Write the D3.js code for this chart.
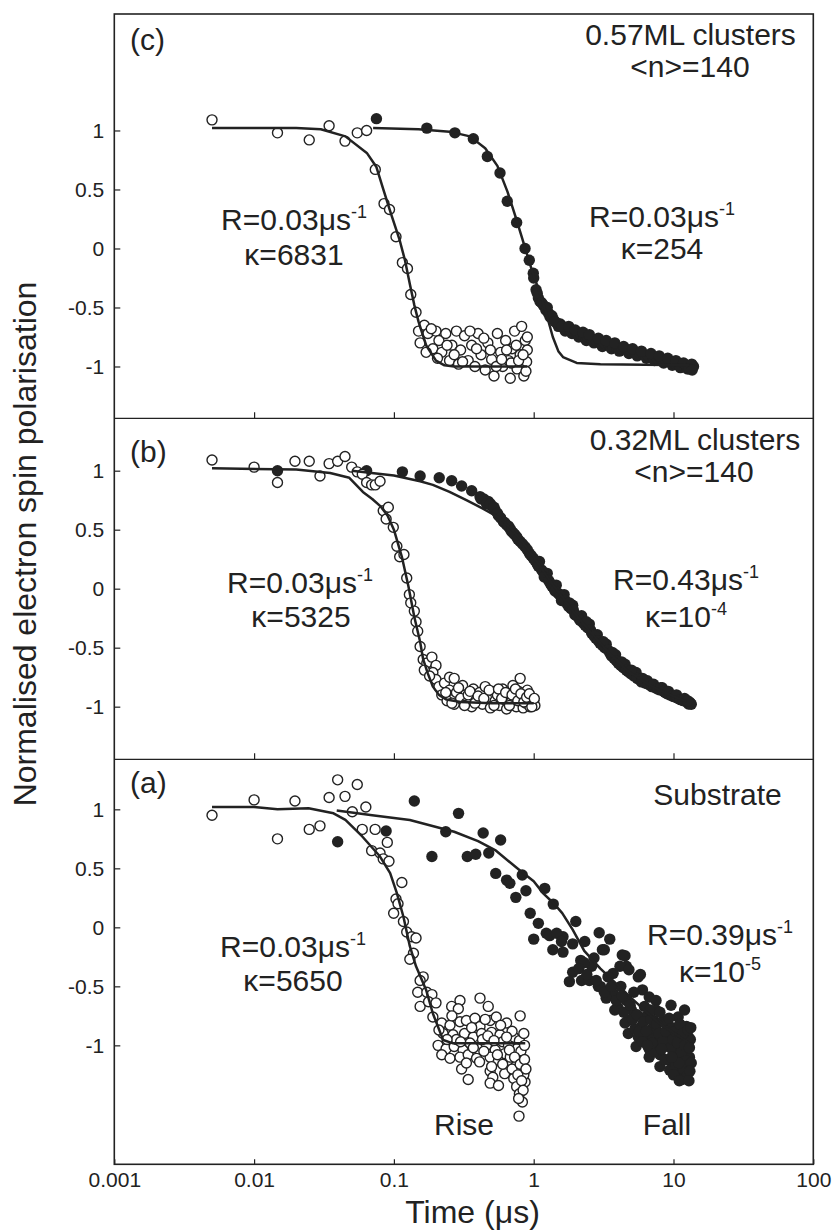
<!DOCTYPE html>
<html>
<head>
<meta charset="utf-8">
<script src="https://cdn.jsdelivr.net/npm/d3@7"></script>
<style>
  body { margin: 0; background: #fff; }
  svg { display: block; font-family: 'Liberation Sans', Arial, Helvetica, sans-serif; }
</style>
</head>
<body>
<svg id="chart" width="834" height="1230"></svg>
<script>
// axis ticks
const X_TICKS = [0.001, 0.01, 0.1, 1, 10, 100];
const X_TICK_LABELS = ['0.001', '0.01', '0.1', '1', '10', '100'];
const X_INNER_TICKS = [0.01, 0.1, 1, 10];
const Y_TICKS = [-1, -0.5, 0, 0.5, 1];
const Y_TICK_LABELS = ['-1', '-0.5', '0', '0.5', '1'];

// (c) 0.57ML clusters  -- [time us, polarisation]
const riseC = [[0.005,1.09],[0.0147,0.98],[0.0248,0.92],[0.0344,1.04],[0.0447,0.91],[0.0547,0.98],[0.0638,1.0],
  [0.0736,0.67],[0.085,0.38],[0.093,0.33],[0.1035,0.1],[0.115,-0.12],[0.125,-0.17],[0.132,-0.39],[0.144,-0.54],
  [0.15,-0.7],[0.154,-0.8],[0.165,-0.65],[0.175,-0.72],[0.19,-0.85],[0.2,-0.7],[0.21,-0.78],[0.22,-0.88],
  [0.235,-0.72],[0.25,-0.95],[0.26,-0.82],[0.28,-0.7],[0.29,-0.98],[0.3,-0.86],[0.32,-0.74],[0.34,-0.95],
  [0.36,-0.82],[0.38,-1.0],[0.4,-0.72],[0.42,-0.9],[0.45,-1.03],[0.47,-0.8],[0.5,-0.94],[0.52,-1.08],
  [0.55,-0.72],[0.58,-0.88],[0.6,-1.0],[0.63,-0.78],[0.66,-0.95],[0.68,-1.1],[0.7,-0.85],[0.73,-0.7],
  [0.76,-1.02],[0.8,-0.9],[0.82,-0.66],[0.85,-1.08],[0.87,-0.78],[0.89,-0.96],[0.9,-0.86],
  [0.17,-0.88],[0.185,-0.68],[0.205,-0.93],[0.24,-0.82],[0.27,-0.9],[0.31,-0.96],[0.35,-0.7],[0.39,-0.85],
  [0.44,-0.76],[0.49,-0.86],[0.54,-1.0],[0.59,-0.94],[0.64,-0.86],[0.69,-0.97],[0.75,-0.82],[0.78,-0.95],
  [0.84,-0.9],[0.88,-1.04],[0.9,-0.75]];
const fallC = [[0.075,1.10],[0.172,1.02],[0.273,0.98],[0.37,0.93],[0.466,0.78],[0.574,0.64],[0.647,0.40],
  [0.755,0.22],[0.867,0.0],[0.93,-0.1],[0.993,-0.21],[1.04,-0.35],[1.08,-0.42],[1.11,-0.45],[1.17,-0.48],
  [1.22,-0.52],[1.28,-0.55],[1.31,-0.58],[1.38,-0.6],[1.46,-0.63],[1.5,-0.66],[1.55,-0.64],[1.63,-0.67],
  [1.68,-0.7],[1.72,-0.68],[1.82,-0.69],[1.88,-0.72],[1.93,-0.71],[2.03,-0.72],[2.1,-0.75],[2.18,-0.73],
  [2.3,-0.75],[2.38,-0.78],[2.45,-0.75],[2.6,-0.77],[2.7,-0.8],[2.8,-0.78],[3.0,-0.8],[3.1,-0.83],[3.2,-0.8],
  [3.45,-0.82],[3.6,-0.85],[3.7,-0.83],[3.95,-0.84],[4.1,-0.87],[4.25,-0.85],[4.6,-0.86],[4.8,-0.89],
  [4.9,-0.86],[5.3,-0.88],[5.5,-0.91],[5.7,-0.88],[6.1,-0.9],[6.4,-0.93],[6.6,-0.91],[7.1,-0.92],[7.3,-0.95],
  [7.6,-0.93],[8.2,-0.94],[8.5,-0.97],[8.8,-0.95],[9.4,-0.96],[9.8,-0.99],[10.1,-0.97],[10.8,-0.98],
  [11.2,-1.01],[11.5,-0.99],[12.3,-0.99],[12.6,-1.02],[13.2,-1.0],[13.9,-1.0],
  [1.0,-0.25],[1.06,-0.38],[1.14,-0.46],[1.25,-0.5],[1.35,-0.57],[1.42,-0.62],[1.6,-0.66],[1.78,-0.66],
  [1.98,-0.69],[2.25,-0.71],[2.5,-0.73],[2.9,-0.76],[3.3,-0.78],[3.8,-0.8],[4.4,-0.83],[5.1,-0.85],
  [5.9,-0.87],[6.9,-0.89],[7.9,-0.91],[9.1,-0.93],[10.4,-0.95],[11.8,-0.97],[13.5,-0.98],[12.9,-1.02],
  [13.6,-1.03]];
const fitRiseC = [[0.005,1.02],[0.01,1.02],[0.02,1.02],[0.03,1.01],[0.045,0.95],[0.064,0.81],[0.075,0.69],
  [0.084,0.5],[0.095,0.3],[0.11,0.07],[0.12,-0.1],[0.13,-0.3],[0.14,-0.48],[0.15,-0.62],[0.17,-0.82],
  [0.2,-0.95],[0.23,-0.99],[0.27,-1.0],[0.9,-1.0]];
const fitFallC = [[0.071,1.02],[0.15,1.01],[0.25,0.99],[0.35,0.95],[0.45,0.85],[0.55,0.7],[0.65,0.48],
  [0.75,0.25],[0.87,0.0],[0.98,-0.2],[1.11,-0.38],[1.23,-0.55],[1.37,-0.75],[1.5,-0.87],[1.62,-0.92],
  [2.03,-0.97],[3,-0.98],[13,-0.99]];

// (b) 0.32ML clusters
const riseB = [[0.005,1.09],[0.01,1.03],[0.0147,0.9],[0.0196,1.08],[0.0248,1.08],[0.0296,0.955],[0.0344,1.06],
  [0.0396,1.08],[0.0447,1.12],[0.0499,1.03],[0.0547,0.99],[0.0594,0.97],[0.0638,0.9],[0.0693,0.88],
  [0.0736,0.88],[0.0796,0.91],[0.0839,0.66],[0.0912,0.69],[0.088,0.59],[0.099,0.52],[0.105,0.36],[0.11,0.27],
  [0.118,0.29],[0.1235,0.09],[0.129,-0.05],[0.132,-0.12],[0.14,-0.19],[0.144,-0.28],[0.148,-0.36],
  [0.154,-0.49],[0.162,-0.6],[0.172,-0.63],[0.187,-0.58],[0.2,-0.65],[0.19,-0.71],[0.2,-0.77],[0.21,-0.83],
  [0.23,-0.8],[0.25,-0.75],[0.27,-0.76],[0.22,-0.9],[0.24,-0.95],[0.25,-0.86],[0.27,-0.98],[0.28,-0.88],
  [0.3,-0.93],[0.31,-0.82],[0.33,-0.97],[0.34,-0.9],[0.36,-1.0],[0.37,-0.85],[0.39,-0.94],[0.41,-0.88],
  [0.43,-0.98],[0.45,-0.83],[0.47,-0.92],[0.49,-1.01],[0.51,-0.87],[0.53,-0.95],[0.55,-0.9],[0.57,-0.99],
  [0.6,-0.85],[0.62,-0.94],[0.64,-1.02],[0.66,-0.88],[0.69,-0.96],[0.71,-0.82],[0.73,-0.91],[0.75,-1.0],
  [0.78,-0.87],[0.8,-0.76],[0.82,-0.94],[0.84,-1.01],[0.86,-0.9],[0.88,-0.97],[0.9,-0.86],[0.92,-0.94],
  [0.94,-1.0],[0.96,-0.92],[0.98,-0.97],[1.0,-0.95],[1.02,-0.99],
  [0.235,-0.88],[0.26,-0.97],[0.29,-0.84],[0.32,-0.99],[0.35,-0.87],[0.38,-0.97],[0.4,-0.91],[0.44,-0.93],
  [0.48,-0.86],[0.52,-0.99],[0.56,-0.85],[0.59,-0.93],[0.63,-0.88],[0.67,-0.99],[0.7,-0.9],[0.74,-0.85],
  [0.77,-0.95],[0.81,-0.89],[0.85,-0.96],[0.89,-0.92],[0.93,-0.89],[0.97,-1.0],[1.01,-0.93],[0.165,-0.69],
  [0.18,-0.74]];
const fallB = [[0.0147,1.0],[0.0638,1.0],[0.115,0.99],[0.154,0.955],[0.211,0.94],[0.259,0.915],[0.305,0.87],
  [0.36,0.83],[0.413,0.78],[0.44,0.76],[0.473,0.74],[0.5,0.7],[0.529,0.667],[0.56,0.62],[0.607,0.568],
  [0.64,0.54],[0.677,0.51],[0.71,0.475],[0.755,0.44],[0.8,0.4],[0.867,0.356],[0.93,0.3],[0.993,0.258],
  [1.06,0.21],[1.1,0.23],[1.14,0.158],[1.22,0.1],[1.25,0.13],[1.31,0.046],[1.4,0.0],[1.45,0.03],[1.5,-0.04],
  [1.6,-0.08],[1.65,-0.05],[1.72,-0.124],[1.85,-0.17],[1.9,-0.14],[1.97,-0.22],[2.1,-0.25],[2.2,-0.23],
  [2.26,-0.29],[2.43,-0.33],[2.5,-0.3],[2.6,-0.378],[2.78,-0.42],[2.85,-0.39],[2.98,-0.463],[3.22,-0.5],
  [3.3,-0.47],[3.51,-0.548],[3.75,-0.59],[3.85,-0.56],[4.03,-0.632],[4.38,-0.67],[4.5,-0.64],[4.75,-0.703],
  [5.2,-0.74],[5.4,-0.71],[5.75,-0.774],[6.25,-0.8],[6.5,-0.78],[6.79,-0.816],[7.4,-0.84],[8.0,-0.858],
  [8.3,-0.84],[8.7,-0.88],[9.44,-0.9],[10.1,-0.915],[10.8,-0.93],[11.6,-0.945],[12.4,-0.957],[12.8,-0.977],
  [13.2,-0.97],
  [0.42,0.76],[0.46,0.72],[0.49,0.72],[0.52,0.69],[0.55,0.64],[0.58,0.6],[0.62,0.56],[0.66,0.53],[0.69,0.49],
  [0.73,0.46],[0.77,0.42],[0.83,0.38],[0.9,0.33],[0.96,0.28],[1.02,0.24],[1.08,0.19],[1.17,0.14],[1.19,0.1],
  [1.28,0.07],[1.35,0.02],[1.42,-0.02],[1.55,-0.06],[1.58,-0.1],[1.68,-0.1],[1.78,-0.15],[1.8,-0.12],
  [1.92,-0.18],[2.03,-0.23],[2.15,-0.27],[2.33,-0.31],[2.38,-0.28],[2.55,-0.35],[2.7,-0.4],[2.9,-0.44],
  [3.1,-0.48],[3.15,-0.45],[3.4,-0.52],[3.6,-0.57],[3.65,-0.54],[3.9,-0.61],[4.2,-0.65],[4.25,-0.62],
  [4.6,-0.69],[4.95,-0.72],[5.0,-0.69],[5.5,-0.76],[5.9,-0.79],[6.0,-0.76],[6.6,-0.81],[7.0,-0.83],
  [7.2,-0.81],[7.7,-0.85],[8.1,-0.84],[8.5,-0.87],[9.0,-0.89],[9.2,-0.87],[9.8,-0.91],[10.4,-0.92],
  [10.5,-0.9],[11.2,-0.94],[11.8,-0.95],[12.0,-0.93],[13.0,-0.96],[13.4,-0.98],[12.6,-0.95]];
const fitRiseB = [[0.005,1.02],[0.02,1.01],[0.035,0.98],[0.048,0.94],[0.06,0.82],[0.07,0.76],[0.08,0.7],
  [0.09,0.62],[0.1,0.5],[0.114,0.27],[0.127,0.02],[0.14,-0.24],[0.154,-0.45],[0.162,-0.6],[0.175,-0.72],
  [0.19,-0.83],[0.21,-0.9],[0.238,-0.94],[0.3,-0.96],[0.5,-0.97],[1.0,-0.97]];
const fitFallB = [[0.05,1.0],[0.1,0.96],[0.154,0.91],[0.19,0.88],[0.25,0.82],[0.33,0.75],[0.43,0.68],
  [0.57,0.6],[0.7,0.5],[0.85,0.38],[1.0,0.27],[1.3,0.07],[1.6,-0.07],[2,-0.22],[2.6,-0.38],[3.5,-0.55],
  [4.75,-0.7],[6.8,-0.82],[9.4,-0.9],[12.4,-0.955]];

// (a) substrate
const riseA = [[0.005,0.95],[0.01,1.08],[0.0147,0.75],[0.0196,1.07],[0.0248,0.83],[0.0296,0.86],[0.0344,1.10],
  [0.0396,1.25],[0.0447,1.11],[0.0504,0.98],[0.0547,1.21],[0.0594,0.83],[0.063,1.02],[0.0734,0.83],
  [0.0693,0.65],[0.0796,0.63],[0.0839,0.58],[0.0897,0.72],[0.0922,0.56],[0.114,0.38],[0.1035,0.24],
  [0.107,0.2],[0.0996,0.12],[0.117,0.05],[0.1235,-0.04],[0.134,-0.08],[0.144,-0.09],[0.138,-0.22],
  [0.13,-0.27],[0.162,-0.42],[0.154,-0.45],[0.148,-0.55],[0.172,-0.55],[0.187,-0.57],[0.154,-0.67],
  [0.177,-0.63],[0.2,-0.64],[0.259,-0.67],[0.297,-0.62],[0.289,-0.69],[0.413,-0.6],[0.473,-0.67],[0.19,-0.76],
  [0.22,-0.81],[0.252,-0.83],[0.297,-0.8],[0.33,-0.79],[0.38,-0.77],[0.413,-0.84],[0.488,-0.79],[0.54,-0.76],
  [0.64,-0.81],[0.8,-0.75],[0.225,-0.9],[0.265,-0.91],[0.32,-0.9],[0.37,-0.93],[0.424,-0.9],[0.5,-0.89],
  [0.574,-0.91],[0.72,-0.93],[0.79,-0.96],[0.207,-1.0],[0.236,-1.03],[0.27,-1.01],[0.312,-1.04],[0.35,-0.98],
  [0.4,-1.03],[0.46,-1.0],[0.53,-1.04],[0.62,-1.07],[0.755,-1.03],[0.81,-1.05],[0.22,-1.08],[0.252,-1.11],
  [0.297,-1.1],[0.34,-1.08],[0.39,-1.11],[0.488,-1.1],[0.56,-1.13],[0.675,-1.14],[0.81,-1.13],[0.305,-1.2],
  [0.488,-1.22],[0.51,-1.27],[0.62,-1.24],[0.867,-1.21],[0.72,-1.28],[0.34,-1.29],[0.488,-1.32],[0.56,-1.34],
  [0.755,-1.35],[0.867,-1.31],[0.79,-1.41],[0.83,-1.48],[0.785,-1.6],[0.43,-0.95],[0.6,-0.97],[0.66,-1.0],
  [0.7,-0.88],[0.85,-0.9],[0.86,-1.0],[0.58,-0.83],[0.45,-0.78],[0.68,-1.1],[0.36,-0.85],[0.28,-0.95],
  [0.5,-1.18],[0.74,-1.18],[0.85,-1.25],
  [0.21,-0.87],[0.24,-0.95],[0.26,-0.75],[0.3,-0.97],[0.33,-1.15],[0.37,-1.02],[0.41,-1.14],[0.44,-1.05],
  [0.47,-0.92],[0.52,-0.96],[0.55,-1.08],[0.6,-1.16],[0.64,-0.93],[0.67,-1.04],[0.7,-1.2],[0.73,-1.1],
  [0.77,-1.25],[0.8,-1.16],[0.82,-1.3],[0.84,-1.38],[0.86,-1.12],[0.88,-1.2],[0.78,-1.45]];
const fallA = [[0.0396,0.725],[0.088,0.816],[0.14,1.07],[0.187,0.6],[0.235,0.81],[0.29,0.966],[0.335,0.6],
  [0.385,0.62],[0.435,0.8],[0.477,0.63],[0.58,0.74],[0.535,0.457],[0.64,0.4],[0.675,0.373],[0.828,0.443],
  [0.745,0.254],[0.88,0.31],[0.944,0.119],[1.2,0.33],[1.08,0.034],[1.0,-0.1],[1.38,0.197],[1.23,-0.05],
  [1.3,-0.07],[2.0,0.05],[1.62,-0.08],[2.94,-0.046],[3.5,-0.1],[1.37,-0.19],[1.62,-0.21],[4.3,-0.235],
  [1.46,-0.05],[1.9,-0.14],[2.32,-0.12],[2.17,-0.28],[2.7,-0.26],[3.2,-0.19],[4.5,-0.24],[1.9,-0.38],
  [1.8,-0.46],[2.2,-0.45],[2.9,-0.5],[3.7,-0.39],[4.6,-0.33],[5.6,-0.42],[5.4,-1.01],[1.58,-0.12],[3.1,-0.19],
  [4.14,-0.33],[4.8,-0.36],[5.8,-0.4],[2.5,-0.45],[3.0,-0.5],[3.7,-0.56],[4.6,-0.62],[6.0,-0.53],[6.7,-0.59],
  [7.5,-0.62],[9.6,-0.66],[3.8,-0.7],[4.75,-0.79],[5.9,-0.84],[7.2,-0.79],[8.9,-0.79],[10.8,-0.76],
  [12.4,-0.84],[4.75,-0.9],[5.6,-0.93],[6.6,-0.93],[8.0,-0.9],[10.0,-0.93],[12.8,-0.93],[6.7,-1.03],
  [8.5,-1.01],[10.2,-1.01],[12.8,-1.01],[6.7,-1.1],[8.0,-1.08],[9.4,-1.13],[11.2,-1.1],[12.8,-1.15],
  [8.0,-1.18],[9.4,-1.21],[11.2,-1.22],[11.5,-1.29],[9.2,-0.84],[7.5,-0.7],[6.2,-0.67],[4.5,-0.81],
  [3.3,-0.6],[4.0,-0.68],[5.0,-0.7],[5.3,-0.86],[6.3,-0.76],[7.0,-0.86],[7.8,-0.97],[8.3,-0.8],[9.0,-0.95],
  [9.8,-0.85],[10.5,-1.05],[11.0,-0.9],[11.8,-0.98],[12.2,-1.06],[13.2,-0.95],[13.0,-1.1],[12.0,-0.7],
  [6.0,-0.97],[7.3,-1.05],[8.7,-1.12],[10.4,-1.17],[11.8,-1.2],[12.5,-1.26],[2.6,-0.33],[3.4,-0.42],
  [2.3,-0.3],[5.2,-0.55],[4.2,-0.5],
  [2.1,-0.35],[2.4,-0.4],[2.8,-0.45],[3.2,-0.55],[3.6,-0.5],[3.9,-0.62],[4.3,-0.58],[4.4,-0.72],[4.9,-0.66],
  [5.1,-0.78],[5.5,-0.74],[5.7,-0.88],[6.1,-0.8],[6.4,-0.88],[6.9,-0.78],[7.1,-0.95],[7.6,-0.82],[7.9,-0.9],
  [8.4,-0.97],[8.8,-0.88],[9.3,-0.77],[9.5,-1.02],[9.9,-0.95],[10.3,-0.88],[10.7,-0.98],[11.1,-0.82],
  [11.4,-1.06],[11.7,-0.9],[12.1,-1.0],[12.3,-1.13],[12.7,-0.87],[13.0,-1.02],[13.3,-0.85],[13.4,-1.15],
  [13.1,-1.22],[10.9,-1.15],[9.7,-1.1],[8.2,-1.03],[7.0,-0.98],[6.5,-1.0],[10.0,-1.25],[11.0,-1.3],
  [12.9,-1.3],[6.8,-0.7],[8.0,-0.72]];
const fitRiseA = [[0.005,1.02],[0.01,1.02],[0.0147,1.0],[0.0245,1.01],[0.037,0.966],[0.045,0.91],
  [0.0594,0.77],[0.0796,0.6],[0.094,0.46],[0.105,0.29],[0.117,0.09],[0.13,-0.16],[0.144,-0.33],[0.17,-0.53],
  [0.19,-0.73],[0.225,-0.955],[0.265,-0.983],[0.87,-0.983]];
const fitFallA = [[0.039,0.99],[0.07,0.95],[0.13,0.91],[0.27,0.81],[0.4,0.73],[0.53,0.655],[0.79,0.486],
  [1.0,0.39],[1.17,0.288],[1.4,0.2],[1.6,0.12],[1.9,-0.02],[2.3,-0.2],[3,-0.35],[5,-0.6],[8,-0.82],[13,-0.98]];

const svg = d3.select('#chart');
const LEFT = 114.3, RIGHT = 813.3;
const INK = '#222';

const x = d3.scaleLog().domain([0.001, 100]).range([LEFT, RIGHT]);

// all three panels share 118 px per unit of polarisation
const panels = [
  {name: 'c', top: 14, bottom: 418.3, lo: -1.439, hi: 1.987,
    rise: riseC, fall: fallC, fitRise: fitRiseC, fitFall: fitFallC},
  {name: 'b', top: 418.3, bottom: 759.3, lo: -1.446, hi: 1.444,
    rise: riseB, fall: fallB, fitRise: fitRiseB, fitFall: fitFallB},
  {name: 'a', top: 759.3, bottom: 1164.3, lo: -2.008, hi: 1.424,
    rise: riseA, fall: fallA, fitRise: fitRiseA, fitFall: fitFallA}
];

function styleAxis(g, fontSize) {
  g.attr('font-family', null).attr('font-size', fontSize);
  g.select('.domain').remove();
  g.selectAll('.tick line').attr('stroke', INK).attr('stroke-width', 1.2);
  g.selectAll('.tick text').attr('fill', INK);
}

function drawPanel(p) {
  const y = d3.scaleLinear().domain([p.lo, p.hi]).range([p.bottom, p.top]);
  const g = svg.append('g').attr('class', 'panel-' + p.name);

  g.append('g')
    .attr('transform', 'translate(' + LEFT + ',0)')
    .call(d3.axisLeft(y).tickValues(Y_TICKS)
      .tickFormat((d, i) => Y_TICK_LABELS[i]).tickSize(-6).tickPadding(10))
    .call(a => styleAxis(a, 21));

  const line = d3.line().x(d => x(d[0])).y(d => y(d[1]));

  g.selectAll('circle.fall')
    .data(p.fall)
    .join('circle')
    .attr('class', 'fall')
    .attr('cx', d => x(d[0]))
    .attr('cy', d => y(d[1]))
    .attr('r', 5.7)
    .attr('fill', INK);

  g.selectAll('circle.rise')
    .data(p.rise)
    .join('circle')
    .attr('class', 'rise')
    .attr('cx', d => x(d[0]))
    .attr('cy', d => y(d[1]))
    .attr('r', 5)
    .attr('fill', '#fff')
    .attr('stroke', INK)
    .attr('stroke-width', 1.4);

  [p.fitRise, p.fitFall].forEach(fit => {
    g.append('path')
      .datum(fit)
      .attr('d', line)
      .attr('fill', 'none')
      .attr('stroke', INK)
      .attr('stroke-width', 2.5)
      .attr('stroke-linejoin', 'round');
  });
}

panels.forEach(drawPanel);

// bottom axis
svg.append('g')
  .attr('transform', 'translate(0,1164.3)')
  .call(d3.axisBottom(x).tickValues(X_TICKS)
    .tickFormat((d, i) => X_TICK_LABELS[i]).tickSize(-5).tickPadding(8))
  .call(a => styleAxis(a, 21));

// small ticks on the panel dividers
[418.3, 759.3].forEach(yy => {
  svg.append('g')
    .attr('transform', 'translate(0,' + yy + ')')
    .call(d3.axisBottom(x).tickValues(X_INNER_TICKS).tickFormat('').tickSize(-6))
    .call(a => styleAxis(a, 21));
});

// frame and dividers
svg.append('rect')
  .attr('x', LEFT).attr('y', 14)
  .attr('width', RIGHT - LEFT).attr('height', 1164.3 - 14)
  .attr('fill', 'none').attr('stroke', INK).attr('stroke-width', 1.6);
[418.3, 759.3].forEach(yy => {
  svg.append('line')
    .attr('x1', LEFT).attr('x2', RIGHT).attr('y1', yy).attr('y2', yy)
    .attr('stroke', INK).attr('stroke-width', 1.2);
});

// text helper: parts = [[text, isSup], ...]
function label(x0, y0, parts, size, anchor) {
  const t = svg.append('text')
    .attr('x', x0).attr('y', y0)
    .attr('font-size', size)
    .attr('fill', INK)
    .attr('text-anchor', anchor || 'middle');
  let raised = false;
  parts.forEach(pt => {
    const s = t.append('tspan').text(pt[0]);
    if (pt[1]) {
      s.attr('font-size', size * 0.6).attr('dy', -size * 0.4);
      raised = true;
    } else if (raised) {
      s.attr('dy', size * 0.4);
      raised = false;
    }
  });
  return t;
}

// panel titles
label(130, 50, [['(c)']], 30, 'start');
label(130, 462, [['(b)']], 30, 'start');
label(130, 793, [['(a)']], 30, 'start');
label(690.5, 45, [['0.57ML clusters']], 30);
label(690, 77, [['<n>=140']], 30);
label(695, 450, [['0.32ML clusters']], 30);
label(694, 482, [['<n>=140']], 30);
label(717.5, 805, [['Substrate']], 30);

// fit parameters
label(294, 230, [['R=0.03μs'], ['-1', true]], 30);
label(294, 265, [['κ=6831']], 30);
label(662, 227, [['R=0.03μs'], ['-1', true]], 30);
label(662, 259, [['κ=254']], 30);
label(300, 593, [['R=0.03μs'], ['-1', true]], 30);
label(301, 627, [['κ=5325']], 30);
label(686, 590, [['R=0.43μs'], ['-1', true]], 30);
label(686, 627, [['κ=10'], ['-4', true]], 30);
label(293, 957, [['R=0.03μs'], ['-1', true]], 30);
label(293, 991, [['κ=5650']], 30);
label(720, 945, [['R=0.39μs'], ['-1', true]], 30);
label(720, 982, [['κ=10'], ['-5', true]], 30);
label(464, 1135, [['Rise']], 30);
label(667, 1135, [['Fall']], 30);

// axis titles
label(472.5, 1223, [['Time (μs)']], 32);
svg.append('text')
  .attr('transform', 'translate(35.5,544) rotate(-90)')
  .attr('text-anchor', 'middle')
  .attr('font-size', 32)
  .attr('fill', INK)
  .text('Normalised electron spin polarisation');
</script>
</body>
</html>
